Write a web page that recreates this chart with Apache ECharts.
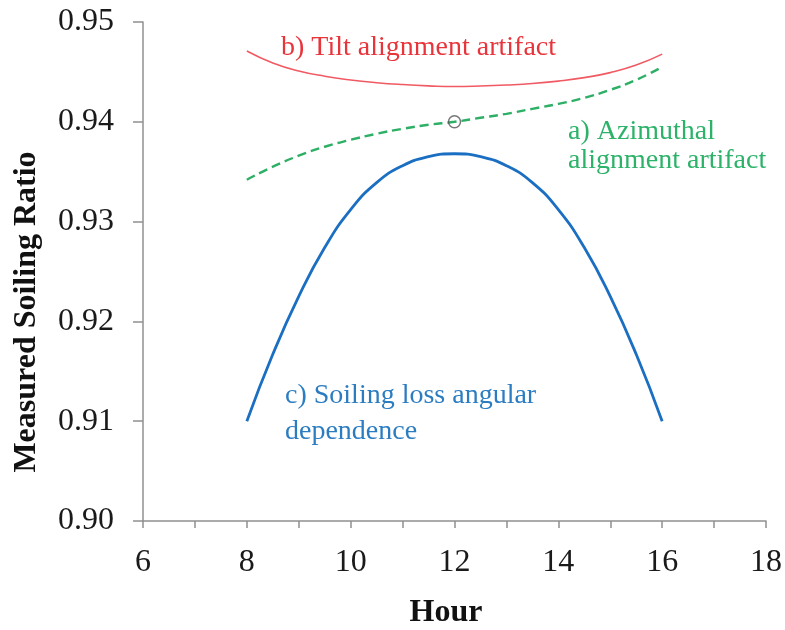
<!DOCTYPE html>
<html>
<head>
<meta charset="utf-8">
<script src="https://cdn.jsdelivr.net/npm/echarts@6/dist/echarts.min.js"></script>
<style>
html,body{margin:0;padding:0;background:#fff;}
#chart{width:785px;height:630px;}
</style>
</head>
<body>
<div id="chart"></div>
<script>
// Data
var hours = [8, 8.5, 9, 9.5, 10, 10.5, 11, 11.5, 12, 12.5, 13, 13.5, 14, 14.5, 15, 15.5, 16];
var soilingAngular = [0.9100, 0.9167, 0.9225, 0.9274, 0.9312, 0.9339, 0.9356, 0.9365, 0.9368, 0.9365, 0.9356, 0.9339, 0.9312, 0.9274, 0.9225, 0.9167, 0.9100];
var tiltArtifact = [0.94710, 0.94590, 0.94510, 0.94457, 0.94419, 0.94392, 0.94373, 0.94360, 0.94353, 0.94358, 0.94368, 0.94383, 0.94408, 0.94443, 0.94493, 0.94568, 0.94678];
var azimuthArtifact = [0.9342, 0.9355, 0.9366, 0.9375, 0.9382, 0.9388, 0.9393, 0.9397, 0.9400, 0.9404, 0.9408, 0.9413, 0.9418, 0.9424, 0.9432, 0.9442, 0.9455];
var markerPoint = [12, 0.9400];
var xTicks = [6, 8, 10, 12, 14, 16, 18];
var yTicks = [0.90, 0.91, 0.92, 0.93, 0.94, 0.95];

var labelTexts = {
  tilt: 'b) Tilt alignment artifact',
  azimuth1: 'a) Azimuthal',
  azimuth2: 'alignment artifact',
  soiling1: 'c) Soiling loss angular',
  soiling2: 'dependence',
  xName: 'Hour',
  yName: 'Measured Soiling Ratio'
};

function pairs(xs, ys) { return xs.map(function (x, i) { return [x, ys[i]]; }); }

var serif = '"Liberation Serif", "Times New Roman", "DejaVu Serif", serif';
var axisGray = '#909090';

var chart = echarts.init(document.getElementById('chart'), null, {renderer: 'canvas'});
chart.setOption({
  backgroundColor: '#ffffff',
  animation: false,
  grid: {left: 143, right: 17, top: 22, bottom: 109, containLabel: false},
  xAxis: {
    type: 'value',
    min: xTicks[0], max: xTicks[xTicks.length - 1], interval: 2,
    axisLine: {show: true, lineStyle: {color: axisGray, width: 1.5}},
    axisTick: {show: true, length: 7, lineStyle: {color: axisGray, width: 1.5}},
    minorTick: {show: true, splitNumber: 2, length: 7, lineStyle: {color: axisGray, width: 1.5}},
    splitLine: {show: false},
    axisLabel: {fontFamily: serif, fontSize: 32, color: '#1a1a1a', margin: 26}
  },
  yAxis: {
    type: 'value',
    min: yTicks[0], max: yTicks[yTicks.length - 1], interval: 0.01,
    axisLine: {show: true, lineStyle: {color: axisGray, width: 1.5}},
    axisTick: {show: true, length: 10, lineStyle: {color: axisGray, width: 1.5}},
    splitLine: {show: false},
    axisLabel: {
      fontFamily: serif, fontSize: 32, color: '#1a1a1a', margin: 29,
      formatter: function (v) { return v.toFixed(2); }
    }
  },
  series: [
    {
      name: 'c', type: 'line', data: pairs(hours, soilingAngular), smooth: true,
      showSymbol: false, symbol: 'none',
      lineStyle: {color: '#1b6fc2', width: 2.8}
    },
    {
      name: 'b', type: 'line', data: pairs(hours, tiltArtifact), smooth: true,
      showSymbol: false, symbol: 'none',
      lineStyle: {color: '#f05a63', width: 1.6}
    },
    {
      name: 'a', type: 'line', data: pairs(hours, azimuthArtifact), smooth: true,
      showSymbol: false, symbol: 'none',
      lineStyle: {color: '#2eaf66', width: 2.4, type: [9, 5]}
    },
    {
      name: 'marker', type: 'scatter', data: [markerPoint], symbol: 'circle', symbolSize: 12,
      itemStyle: {color: 'rgba(255,255,255,0)', borderColor: '#555555', borderWidth: 1.5},
      z: 5
    }
  ],
  graphic: [
    {type: 'text', x: 281, y: 48, style: {text: labelTexts.tilt, font: '28px ' + serif, fill: '#e8343b', align: 'left', verticalAlign: 'middle'}},
    {type: 'text', x: 568, y: 132, style: {text: labelTexts.azimuth1, font: '28px ' + serif, fill: '#2db26a', align: 'left', verticalAlign: 'middle'}},
    {type: 'text', x: 568, y: 161, style: {text: labelTexts.azimuth2, font: '28px ' + serif, fill: '#2db26a', align: 'left', verticalAlign: 'middle'}},
    {type: 'text', x: 285, y: 396, style: {text: labelTexts.soiling1, font: '28px ' + serif, fill: '#2b7cc1', align: 'left', verticalAlign: 'middle'}},
    {type: 'text', x: 285, y: 432, style: {text: labelTexts.soiling2, font: '28px ' + serif, fill: '#2b7cc1', align: 'left', verticalAlign: 'middle'}},
    {type: 'text', x: 446, y: 613, style: {text: labelTexts.xName, font: 'bold 32px ' + serif, fill: '#111', align: 'center', verticalAlign: 'middle'}},
    {type: 'text', x: 27, y: 312, rotation: Math.PI / 2, style: {text: labelTexts.yName, font: 'bold 32px ' + serif, fill: '#111', align: 'center', verticalAlign: 'middle'}}
  ]
});
</script>
</body>
</html>
